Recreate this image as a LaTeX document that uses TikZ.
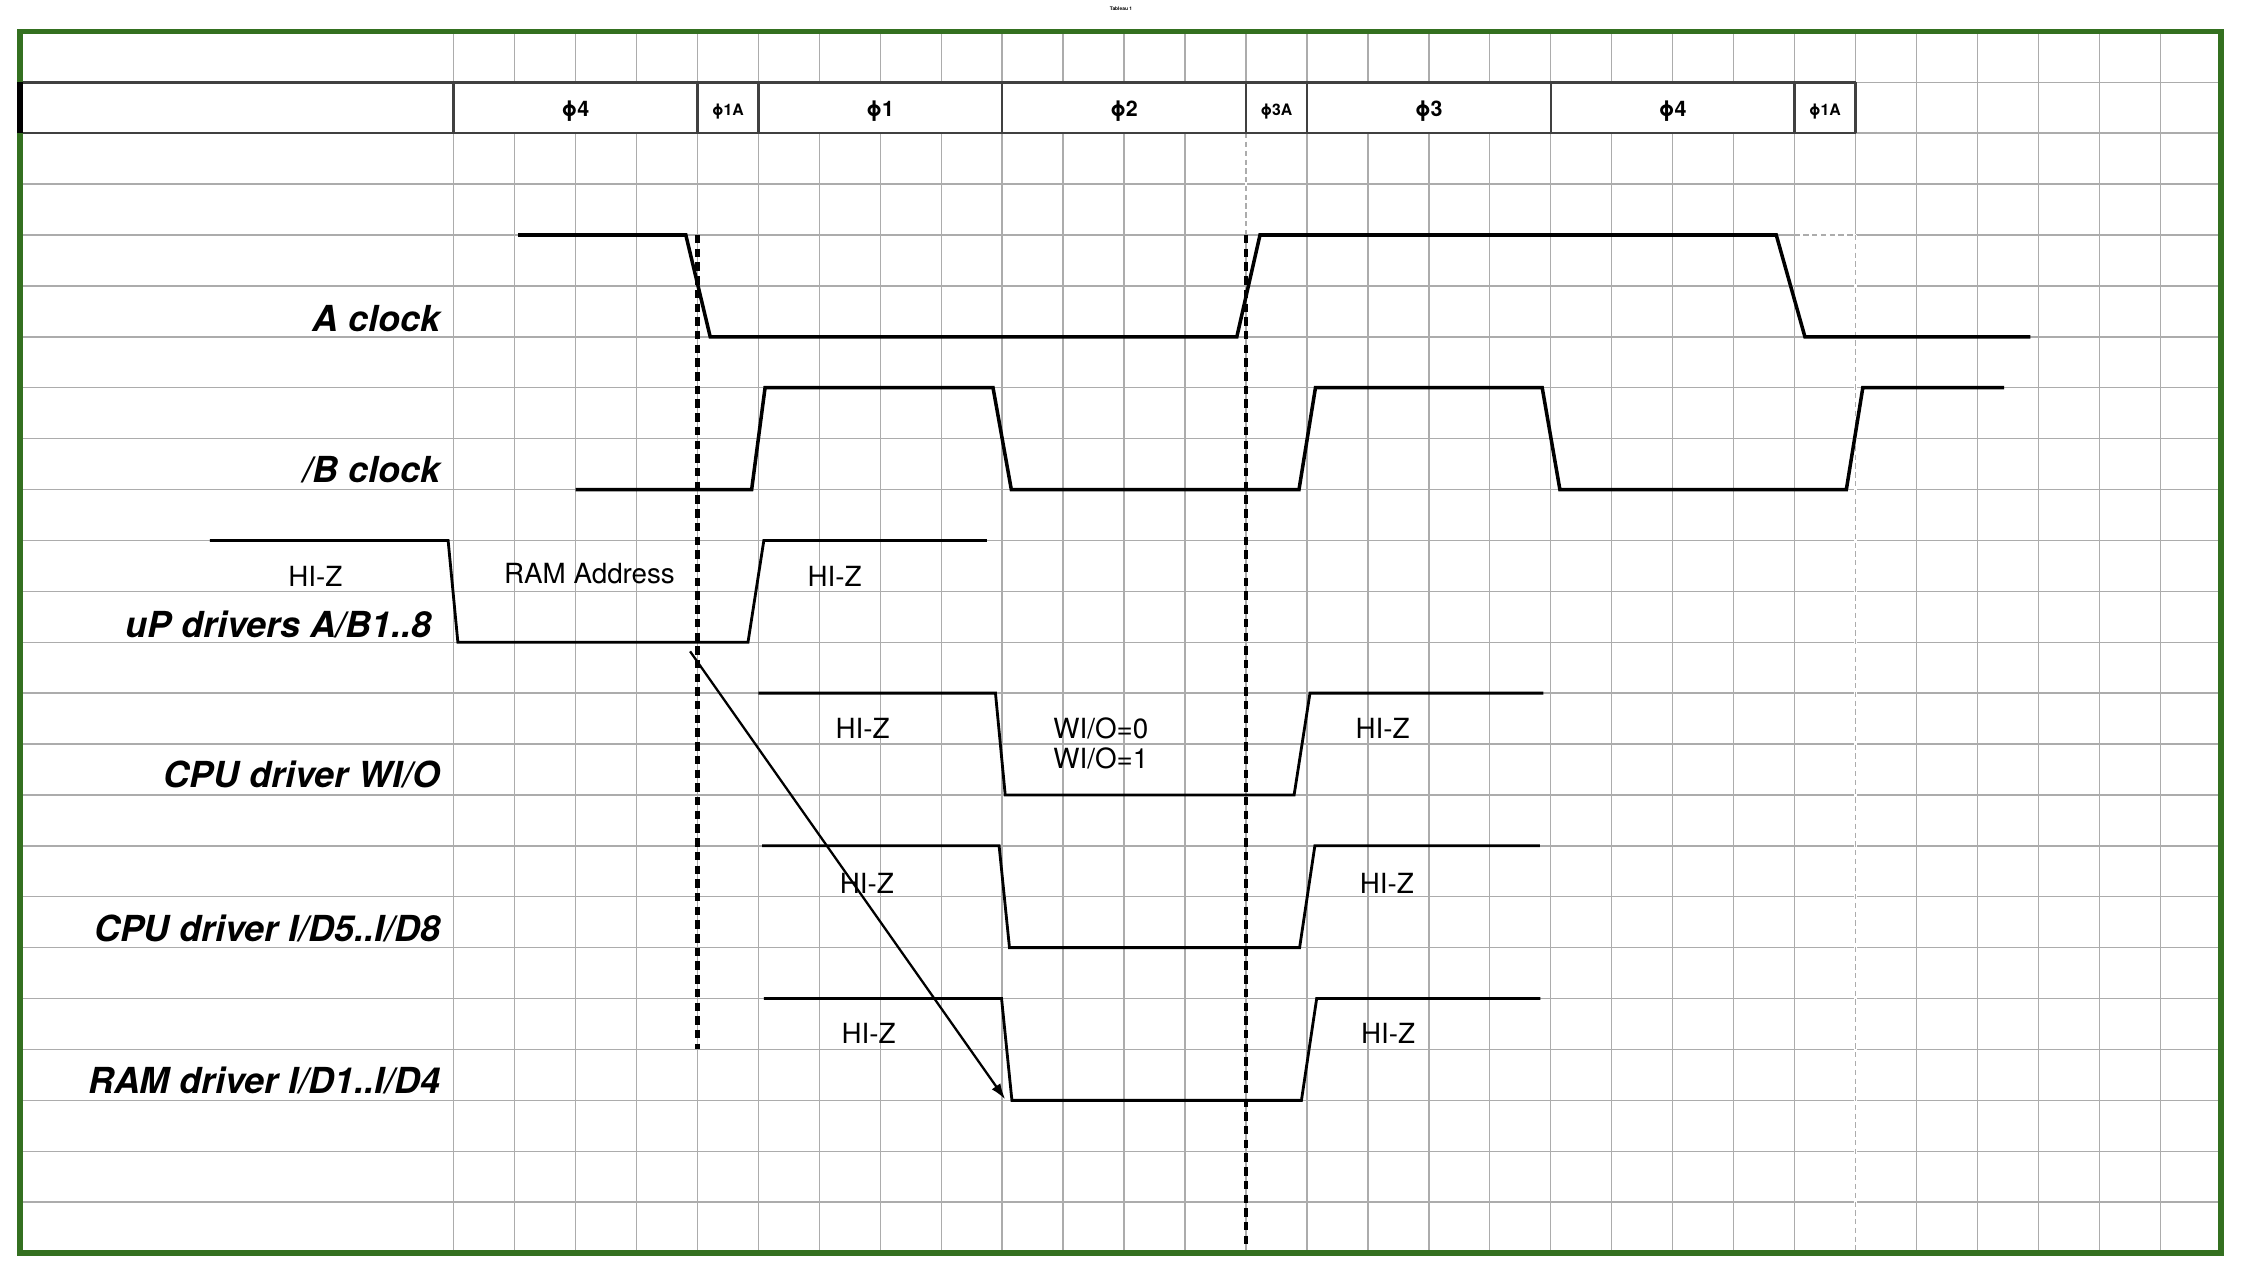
\documentclass[tikz,border=0pt]{standalone}
\usepackage{fontspec}
\setmainfont{TeX Gyre Heros}
\usepackage{xcolor}
\usepackage{tikz}
\usetikzlibrary{arrows.meta,positioning,calc}
\definecolor{frameGreen}{RGB}{52,112,32}
\definecolor{gridGrey}{RGB}{172,172,172}
\definecolor{headGrey}{RGB}{64,64,64}
\tikzset{
  wave/.style={line width=1pt},
  drive/.style={line width=0.8pt},
  cut/.style={line width=1.3pt, dash pattern=on 2.4pt off 1.5pt},
  sigtext/.style={font=\fontsize{7.9}{9}\selectfont, anchor=base, inner sep=0pt},
  siglabel/.style={font=\fontsize{10.2}{12}\selectfont\bfseries\itshape, anchor=base east, inner sep=0pt},
  phase/.style={font=\fontsize{6.1}{7}\selectfont\bfseries, inner sep=0pt},
  subphase/.style={font=\fontsize{4.5}{5}\selectfont\bfseries, inner sep=0pt},
}
\begin{document}
\begin{tikzpicture}[x=0.6095cm,y=-0.509cm]
            \useasboundingbox (-7.442,-1.617) rectangle (29.407,23.49);
            \foreach \r in {0,...,22}
            \draw[gridGrey, line width=0.4pt] (-7.114,\r) -- (29,\r);
            \foreach \c in {0,...,28}
            \draw[gridGrey, line width=0.4pt] (\c,-1) -- (\c,23);
            \draw[white, line width=0.6pt] (23,3) -- (23,23) (13,1) -- (13,3) (22,3) -- (23,3);
            \draw[gridGrey, line width=0.4pt, dash pattern=on 1.5pt off 1pt] (23,3) -- (23,23) (13,1) -- (13,3) (22,3) -- (23,3);
            \fill[white] (-7.114,0) rectangle (23,1);
            \draw[headGrey, line width=0.7pt] (-7.114,0) -- (23,0) (-7.114,1) -- (23,1);
            \foreach \c in {0,4,5,9,13,14,18,22,23}
            \draw[headGrey, line width=0.7pt] (\c,0) -- (\c,1);
            \node[phase] (ph4a) at (2,0.57) {ϕ4};
            \node[subphase] (ph1Aa) at (4.5,0.57) {ϕ1A};
            \node[phase] (ph1) at (7,0.57) {ϕ1};
            \node[phase] (ph2) at (11,0.57) {ϕ2};
            \node[subphase] (ph3A) at (13.5,0.57) {ϕ3A};
            \node[phase] (ph3) at (16,0.57) {ϕ3};
            \node[phase] (ph4b) at (20,0.57) {ϕ4};
            \node[subphase] (ph1Ab) at (22.5,0.57) {ϕ1A};
            \node[font=\fontsize{1.4}{1.7}\selectfont\bfseries, inner sep=0pt] (title) at (10.95,-1.44) {Tableau 1};
            \draw[frameGreen, line width=1.6pt] (-7.114,-1) rectangle (29,23);
            \draw[line width=1.6pt] (-7.114,0) -- (-7.114,1);
            \draw[cut] (4,3) -- (4,19);
            \draw[cut] (13,3) -- (13,22.85);
            \draw[wave] (1.06,3) -- (3.81,3) -- (4.21,5) -- (12.85,5) -- (13.23,3) -- (21.70,3) -- (22.17,5) -- (25.87,5);
            \draw[wave] (2.0,8) -- (4.89,8) -- (5.11,6) -- (8.85,6) -- (9.15,8) -- (13.87,8) -- (14.14,6) -- (17.86,6) -- (18.15,8) -- (22.85,8) -- (23.12,6) -- (25.44,6);
            \draw[drive] (-4.0,9) -- (-0.09,9) -- (0.07,11) -- (4.83,11) -- (5.09,9) -- (8.75,9);
            \draw[drive] (5.0,12) -- (8.89,12) -- (9.05,14) -- (13.79,14) -- (14.05,12) -- (17.88,12);
            \draw[drive] (5.06,15) -- (8.95,15) -- (9.12,17) -- (13.88,17) -- (14.13,15) -- (17.82,15);
            \draw[drive] (5.09,18) -- (8.99,18) -- (9.16,20) -- (13.91,20) -- (14.16,18) -- (17.83,18);
            \node[siglabel] (aclk) at (-0.21,4.9) {A clock};
            \node[siglabel] (bclk) at (-0.21,7.86) {/B clock};
            \node[siglabel] (updrv) at (-0.35,10.9) {uP drivers A/B1..8};
            \node[siglabel] (cpuwio) at (-0.21,13.86) {CPU driver WI/O};
            \node[siglabel] (cpuio) at (-0.21,16.87) {CPU driver I/D5..I/D8};
            \node[siglabel] (ramio) at (-0.21,19.86) {RAM driver I/D1..I/D4};
            \node[sigtext] (upz1) at (-2.27,9.91) {HI-Z};
            \node[sigtext] (upaddr) at (2.23,9.84) {RAM Address};
            \node[sigtext] (upz2) at (6.25,9.91) {HI-Z};
            \node[sigtext] (wioz1) at (6.71,12.9) {HI-Z};
            \node[sigtext, anchor=base west] (wio0) at (9.83,12.9) {WI/O=0};
            \node[sigtext, anchor=base west] (wio1) at (9.83,13.48) {WI/O=1};
            \node[sigtext] (wioz2) at (15.24,12.9) {HI-Z};
            \node[sigtext] (cpuz1) at (6.78,15.93) {HI-Z};
            \node[sigtext] (cpuz2) at (15.31,15.93) {HI-Z};
            \node[sigtext] (ramz1) at (6.81,18.88) {HI-Z};
            \node[sigtext] (ramz2) at (15.33,18.88) {HI-Z};
            \coordinate (addrOut) at (3.88,11.18);
            \coordinate (ramIn) at (9.05,19.98);
            \draw[-{Latex[length=4.5pt,width=3pt]}, line width=0.65pt] (addrOut) -- (ramIn);
        \end{tikzpicture}
\end{document}
